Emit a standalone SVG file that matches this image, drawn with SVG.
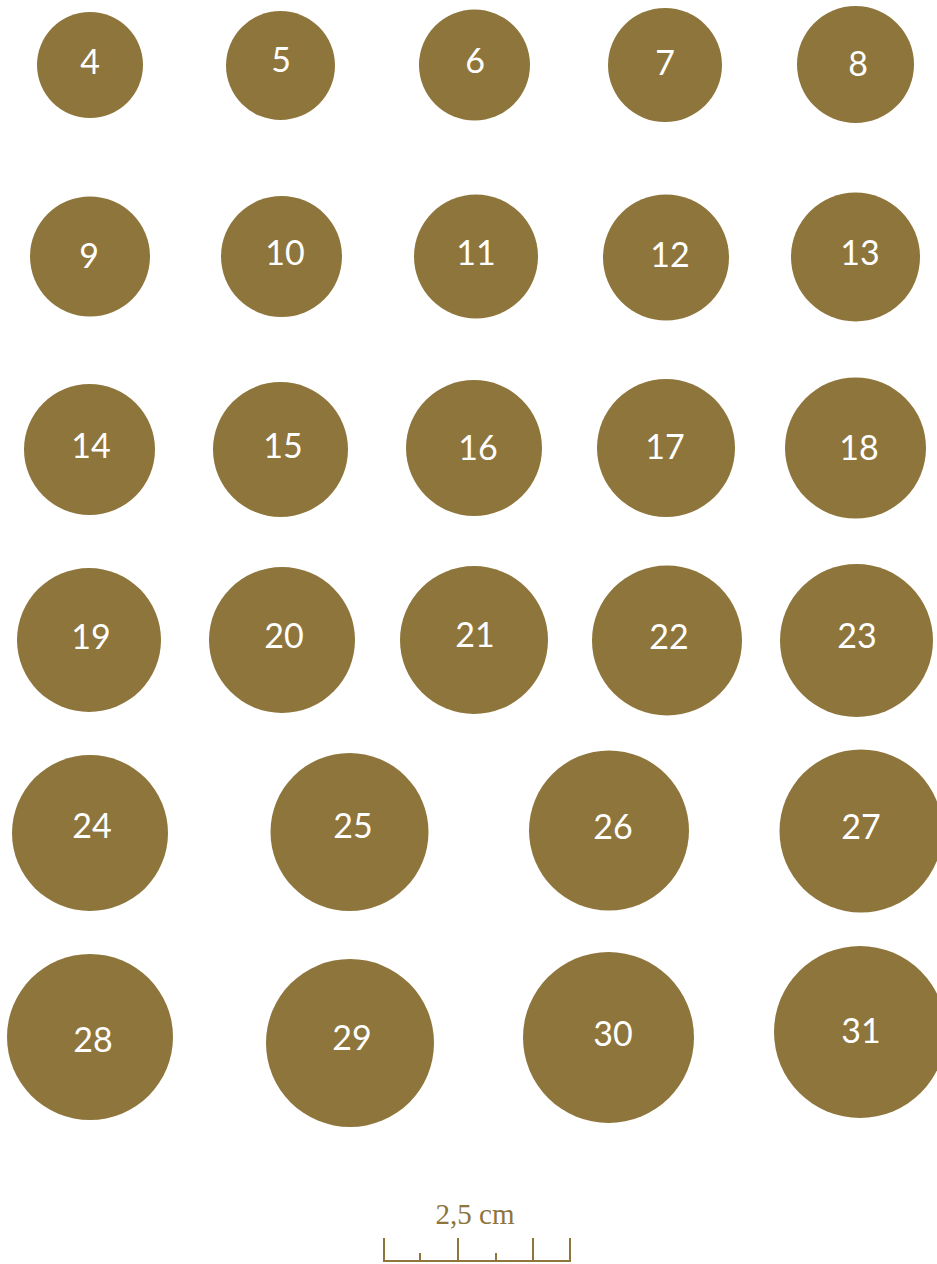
<svg xmlns="http://www.w3.org/2000/svg" width="937" height="1264" viewBox="0 0 937 1264">
<style>
.c{fill:#8E753C}
.t{fill:#FFFFFF;font-family:Lato,"Liberation Sans",sans-serif;font-size:34px;text-anchor:middle}
.s{stroke:#8E753C;stroke-width:2;fill:none}
.st{fill:#8E753C;font-family:"Liberation Serif",serif;font-size:29px;text-anchor:middle}
</style>
<rect width="937" height="1264" fill="#FFFFFF"/>
<g id="n4"><circle class="c" cx="90" cy="65" r="53"/><text class="t" x="90" y="74">4</text></g>
<g id="n5"><circle class="c" cx="280.5" cy="65.5" r="54.5"/><text class="t" x="281" y="72">5</text></g>
<g id="n6"><circle class="c" cx="474.5" cy="65" r="55.5"/><text class="t" x="475" y="73">6</text></g>
<g id="n7"><circle class="c" cx="665" cy="65" r="57"/><text class="t" x="665" y="75">7</text></g>
<g id="n8"><circle class="c" cx="855.5" cy="64.5" r="58.5"/><text class="t" x="858" y="76">8</text></g>
<g id="n9"><circle class="c" cx="90" cy="256.5" r="60"/><text class="t" x="89" y="268">9</text></g>
<g id="n10"><circle class="c" cx="281.5" cy="256.5" r="60.5"/><text class="t" x="285" y="265">10</text></g>
<g id="n11"><circle class="c" cx="476" cy="256.5" r="62"/><text class="t" x="476" y="265">11</text></g>
<g id="n12"><circle class="c" cx="666" cy="257.5" r="63"/><text class="t" x="670" y="267">12</text></g>
<g id="n13"><circle class="c" cx="855.5" cy="257" r="64.5"/><text class="t" x="860" y="265">13</text></g>
<g id="n14"><circle class="c" cx="89.5" cy="449.5" r="65.5"/><text class="t" x="91" y="458">14</text></g>
<g id="n15"><circle class="c" cx="280.5" cy="449.5" r="67.5"/><text class="t" x="283" y="458">15</text></g>
<g id="n16"><circle class="c" cx="474" cy="448" r="68"/><text class="t" x="478" y="460">16</text></g>
<g id="n17"><circle class="c" cx="666" cy="448" r="69"/><text class="t" x="665" y="459">17</text></g>
<g id="n18"><circle class="c" cx="855.5" cy="448" r="70.5"/><text class="t" x="859" y="460">18</text></g>
<g id="n19"><circle class="c" cx="89" cy="640" r="72"/><text class="t" x="91" y="649">19</text></g>
<g id="n20"><circle class="c" cx="282" cy="640" r="73"/><text class="t" x="284" y="648">20</text></g>
<g id="n21"><circle class="c" cx="474" cy="640" r="74"/><text class="t" x="475" y="647">21</text></g>
<g id="n22"><circle class="c" cx="667" cy="640.5" r="75"/><text class="t" x="669" y="649">22</text></g>
<g id="n23"><circle class="c" cx="856.5" cy="640.5" r="76.5"/><text class="t" x="857" y="648">23</text></g>
<g id="n24"><circle class="c" cx="90" cy="833" r="78"/><text class="t" x="92" y="838">24</text></g>
<g id="n25"><circle class="c" cx="349.5" cy="832" r="79"/><text class="t" x="353" y="838">25</text></g>
<g id="n26"><circle class="c" cx="609" cy="830.5" r="80"/><text class="t" x="613" y="839">26</text></g>
<g id="n27"><circle class="c" cx="861" cy="831" r="81.5"/><text class="t" x="861" y="839">27</text></g>
<g id="n28"><circle class="c" cx="90" cy="1037" r="83"/><text class="t" x="93" y="1052">28</text></g>
<g id="n29"><circle class="c" cx="350" cy="1043" r="84"/><text class="t" x="352" y="1050">29</text></g>
<g id="n30"><circle class="c" cx="608.5" cy="1037.5" r="85.5"/><text class="t" x="613" y="1046">30</text></g>
<g id="n31"><circle class="c" cx="860" cy="1032" r="86"/><text class="t" x="861" y="1043">31</text></g>
<g id="scale">
<text class="st" x="475" y="1224">2,5 cm</text>
<path class="s" d="M383 1261H571M384 1238V1261M420 1253V1261M458 1238V1261M496 1253V1261M533 1238V1261M570 1238V1261"/>
</g>
</svg>
